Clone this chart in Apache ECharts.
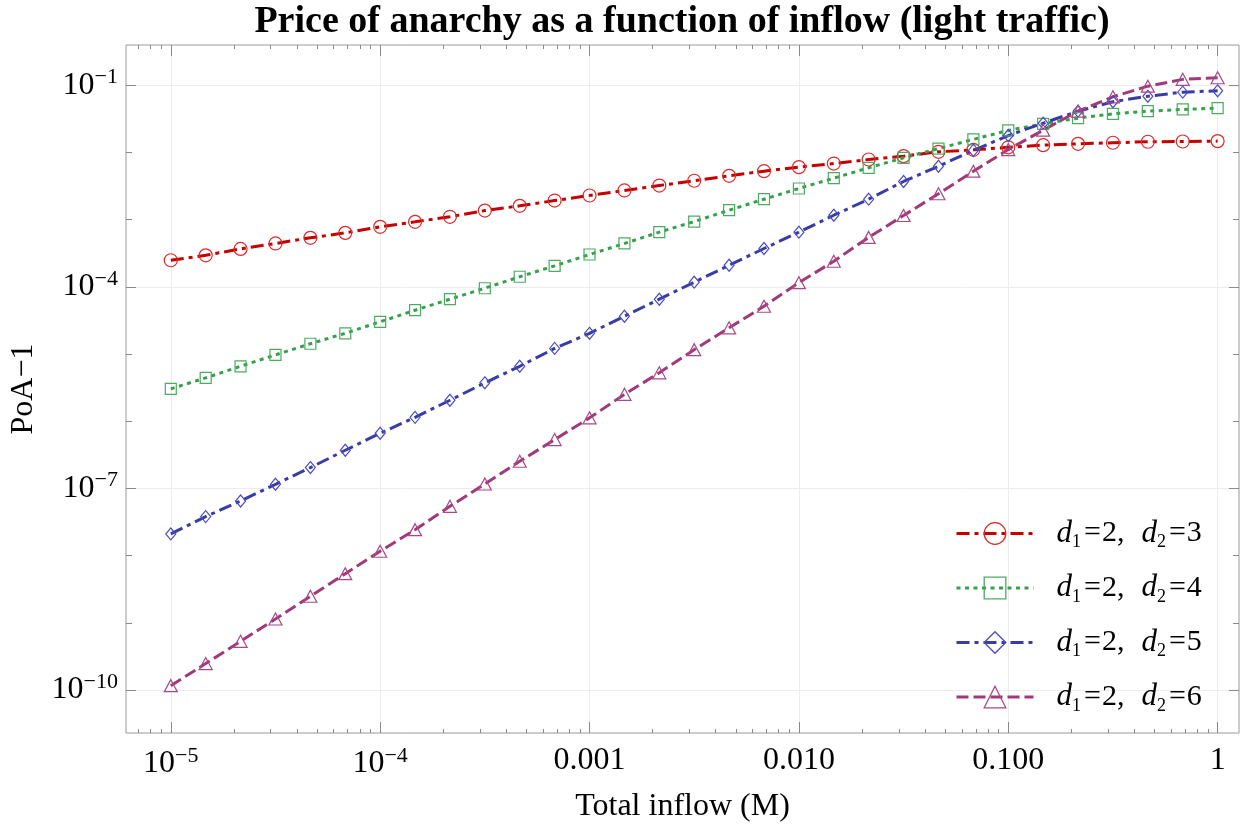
<!DOCTYPE html>
<html>
<head>
<meta charset="utf-8">
<title>Price of anarchy vs inflow</title>
<script src="https://cdn.jsdelivr.net/npm/echarts@6/dist/echarts.min.js"></script>
<style>
  html, body { margin: 0; padding: 0; background: #fff; }
  #main { width: 1250px; height: 830px; }
</style>
</head>
<body>
<div id="main"></div>
<script>
// total inflow M (six points per decade)
var inflow = [
  1e-5, 1.468e-5, 2.154e-5, 3.162e-5, 4.642e-5, 6.813e-5,
  1e-4, 1.468e-4, 2.154e-4, 3.162e-4, 4.642e-4, 6.813e-4,
  1e-3, 1.468e-3, 2.154e-3, 3.162e-3, 4.642e-3, 6.813e-3,
  1e-2, 1.468e-2, 2.154e-2, 3.162e-2, 4.642e-2, 6.813e-2,
  0.1, 0.1468, 0.2154, 0.3162, 0.4642, 0.6813, 1
];
// PoA-1 for d1=2 and d2 = 3, 4, 5, 6
var poaD3 = [
  2.48e-4, 2.94e-4, 3.66e-4, 4.41e-4, 5.35e-4, 6.34e-4, 7.80e-4, 9.25e-4,
  1.10e-3, 1.36e-3, 1.60e-3, 1.92e-3, 2.28e-3, 2.71e-3, 3.21e-3, 3.78e-3,
  4.48e-3, 5.25e-3, 6.03e-3, 6.82e-3, 7.83e-3, 8.79e-3, 1.02e-2, 1.09e-2,
  1.19e-2, 1.28e-2, 1.34e-2, 1.39e-2, 1.44e-2, 1.45e-2, 1.47e-2
];
var poaD4 = [
  3.03e-6, 4.41e-6, 6.56e-6, 9.70e-6, 1.42e-5, 2.03e-5, 3.01e-5, 4.48e-5,
  6.53e-5, 9.51e-5, 1.41e-4, 2.05e-4, 3.02e-4, 4.41e-4, 6.49e-4, 9.35e-4,
  1.38e-3, 2.01e-3, 2.90e-3, 4.13e-3, 5.89e-3, 8.30e-3, 1.14e-2, 1.56e-2,
  2.12e-2, 2.66e-2, 3.23e-2, 3.75e-2, 4.10e-2, 4.35e-2, 4.55e-2
];
var poaD5 = [
  2.10e-8, 3.80e-8, 6.50e-8, 1.15e-7, 2.04e-7, 3.69e-7, 6.61e-7, 1.14e-6,
  2.05e-6, 3.72e-6, 6.56e-6, 1.21e-5, 2.03e-5, 3.64e-5, 6.53e-5, 1.17e-4,
  2.09e-4, 3.71e-4, 6.49e-4, 1.16e-3, 2.01e-3, 3.69e-3, 6.22e-3, 1.07e-2,
  1.78e-2, 2.72e-2, 4.10e-2, 5.66e-2, 6.85e-2, 7.87e-2, 8.24e-2
];
var poaD6 = [
  1.16e-10, 2.47e-10, 5.30e-10, 1.14e-9, 2.48e-9, 5.38e-9, 1.16e-8, 2.43e-8,
  5.41e-8, 1.16e-7, 2.53e-7, 5.32e-7, 1.12e-6, 2.51e-6, 5.24e-6, 1.16e-5,
  2.45e-5, 5.13e-5, 1.15e-4, 2.40e-4, 5.43e-4, 1.15e-3, 2.42e-3, 5.25e-3,
  1.10e-2, 2.14e-2, 4.10e-2, 6.71e-2, 9.66e-2, 0.122, 0.129
];
var legendD2 = [3, 4, 5, 6];

// tick values
var xMajor = [1e-5, 1e-4, 1e-3, 1e-2, 1e-1, 1];
var yLabeled = [1e-10, 1e-7, 1e-4, 1e-1];
var yOther = [1e-9, 1e-8, 1e-6, 1e-5, 1e-3, 1e-2];

var X_MIN = 6.11e-6, X_MAX = 1.265;
var Y_MIN = 2.29e-11, Y_MAX = 0.396;

var xMinor = [];
[1e-6, 1e-5, 1e-4, 1e-3, 1e-2, 1e-1].forEach(function (d) {
  for (var m = 2; m <= 9; m++) {
    var v = d * m;
    if (v > X_MIN && v < X_MAX) xMinor.push(v);
  }
});

var serif = 'Liberation Serif';
var tickColor = '#8a8a8a';
var gridColor = '#ececec';

function pairs(ys) {
  return inflow.map(function (x, i) { return [x, ys[i]]; });
}
function expOf(v) { return Math.round(Math.log10(v)); }

var supRich = {
  b: { fontFamily: serif, fontSize: 32, lineHeight: 38, color: '#000' },
  s: { fontFamily: serif, fontSize: 22, lineHeight: 22, color: '#000', verticalAlign: 'top' }
};

// axis that only draws tick marks (frame ticks on all four sides)
function tickAxis(dim, pos, values, len, color) {
  return {
    type: 'log', logBase: 10, position: pos,
    min: dim === 'x' ? X_MIN : Y_MIN,
    max: dim === 'x' ? X_MAX : Y_MAX,
    axisLine: { show: false },
    axisLabel: { show: false },
    splitLine: { show: false },
    axisTick: { show: true, inside: true, length: len, customValues: values,
                lineStyle: { color: color || tickColor, width: 1 } }
  };
}

var xMain = tickAxis('x', 'bottom', xMajor, 11);
xMain.axisLabel = {
  show: true, customValues: xMajor, margin: 12,
  fontFamily: serif, fontSize: 32, color: '#000', rich: supRich,
  formatter: function (v) {
    var e = expOf(v);
    if (e <= -4) return '{b|10}{s|\u2212' + (-e) + '}';
    return ['0.001', '0.010', '0.100', '1'][e + 3];
  }
};
xMain.splitLine = { show: true, lineStyle: { color: gridColor, width: 1 } };
xMain.name = 'Total inflow (M)';
xMain.nameLocation = 'middle';
xMain.nameGap = 58;
xMain.nameTextStyle = { fontFamily: serif, fontSize: 32, color: '#000' };

var yMain = tickAxis('y', 'left', yLabeled, 10);
yMain.axisLabel = {
  show: true, customValues: yLabeled, margin: 8,
  fontFamily: serif, fontSize: 32, color: '#000', rich: supRich,
  formatter: function (v) { return '{b|10}{s|\u2212' + (-expOf(v)) + '}'; }
};
yMain.name = 'PoA\u22121';
yMain.nameLocation = 'middle';
yMain.nameGap = 86;
yMain.nameTextStyle = { fontFamily: serif, fontSize: 32, color: '#000' };

// horizontal grid lines only at the labelled decades
var yGrid = tickAxis('y', 'left', yLabeled, 1114, gridColor);
yGrid.z = -1;

var styles = [
  { line: '#c40000', mark: '#dd2a2a', dash: [13, 5, 4, 5], symbol: 'circle', size: 13 },
  { line: '#36a04c', mark: '#4caa62', dash: [4, 4.5], symbol: 'rect', size: 11 },
  { line: '#3a3ca6', mark: '#4a4cc0', dash: [13, 5, 4, 5], symbol: 'diamond', size: [10, 12] },
  { line: '#a03a7a', mark: '#a84a86', dash: [12, 5], symbol: 'triangle', size: [13, 12] }
];
var ySets = [poaD3, poaD4, poaD5, poaD6];

var series = ySets.map(function (ys, k) {
  var st = styles[k];
  return {
    name: 'd1=2, d2=' + legendD2[k],
    type: 'line',
    xAxisIndex: 0, yAxisIndex: 0,
    data: pairs(ys),
    symbol: st.symbol,
    symbolSize: st.size,
    showAllSymbol: true,
    itemStyle: { color: 'rgba(255,255,255,0)', borderColor: st.mark, borderWidth: 1.2 },
    lineStyle: { color: st.line, width: 3, type: st.dash },
    emphasis: { disabled: true }
  };
});

var chart = echarts.init(document.getElementById('main'));
chart.setOption({
  animation: false,
  backgroundColor: '#fff',
  title: {
    text: 'Price of anarchy as a function of inflow (light traffic)',
    left: 682, top: 3, padding: 0, textAlign: 'center',
    textStyle: { fontFamily: serif, fontSize: 38, fontWeight: 'bold', color: '#000' }
  },
  grid: {
    left: 125, right: 11, top: 45, bottom: 97,
    show: true, borderColor: '#9a9a9a', borderWidth: 1, backgroundColor: 'transparent'
  },
  legend: {
    orient: 'vertical', left: 950, top: 513,
    itemWidth: 77, itemHeight: 27, itemGap: 21,
    data: series.map(function (s) { return s.name; }),
    lineStyle: { width: 3 },
    itemStyle: { borderWidth: 1.3 },
    formatter: function (name) {
      var d2 = name.split('=').pop();
      return '{g| }{i|d}{u|1}{e|=}{n|2,}{w| }{i|d}{u|2}{e|=}{n|' + d2 + '}';
    },
    textStyle: {
      fontFamily: serif, fontSize: 30, color: '#000',
      rich: {
        g: { width: 18, fontSize: 30 },
        w: { width: 17, fontSize: 30 },
        i: { fontFamily: serif, fontSize: 31, fontStyle: 'italic', lineHeight: 36, color: '#000' },
        u: { fontFamily: serif, fontSize: 18, lineHeight: 18, verticalAlign: 'bottom', color: '#000' },
        e: { fontFamily: serif, fontSize: 30, lineHeight: 36, color: '#000', padding: [0, 1, 0, 3] },
        n: { fontFamily: serif, fontSize: 30, lineHeight: 36, color: '#000' }
      }
    }
  },
  xAxis: [
    xMain,
    tickAxis('x', 'bottom', xMinor, 4),
    tickAxis('x', 'top', xMajor, 11),
    tickAxis('x', 'top', xMinor, 4)
  ],
  yAxis: [
    yMain,
    tickAxis('y', 'left', yOther, 6),
    tickAxis('y', 'right', yLabeled, 10),
    tickAxis('y', 'right', yOther, 6),
    yGrid
  ],
  series: series
});
</script>
</body>
</html>
